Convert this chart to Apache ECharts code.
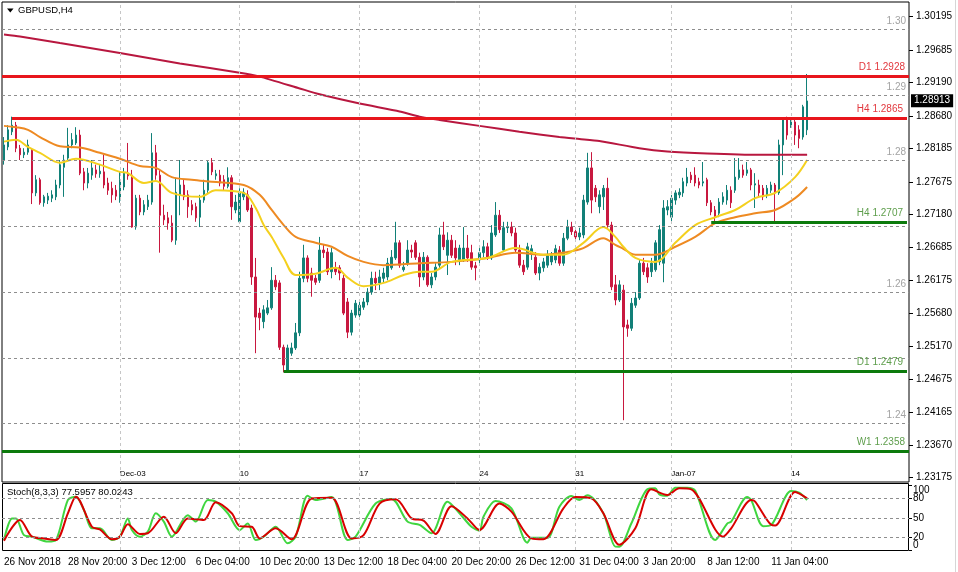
<!DOCTYPE html>
<html><head><meta charset="utf-8">
<script src="https://cdn.jsdelivr.net/npm/echarts@6/dist/echarts.min.js"></script>
<style>html,body{margin:0;padding:0;background:#fff}#c{width:958px;height:572px}</style>
</head><body><div id="c"></div>
<script>
// ---------- DATA ----------
const symbolTitle = 'GBPUSD,H4';
const opens = [1.2801,1.2821,1.2844,1.2854,1.2819,1.2809,1.2813,1.2816,1.2751,1.2771,
1.2736,1.2740,1.2743,1.2745,1.2763,1.2790,1.2804,1.2824,1.2827,1.2839,
1.2783,1.2766,1.2778,1.2786,1.2780,1.2783,1.2766,1.2758,1.2755,1.2740,
1.2760,1.2781,1.2778,1.2699,1.2743,1.2722,1.2730,1.2737,1.2812,1.2778,
1.2717,1.2713,1.2705,1.2679,1.2748,1.2763,1.2748,1.2733,1.2730,1.2714,
1.2740,1.2755,1.2797,1.2777,1.2778,1.2771,1.2761,1.2774,1.2725,1.2707,
1.2745,1.2748,1.2728,1.2623,1.2568,1.2555,1.2568,1.2576,1.2618,1.2614,
1.2516,1.2481,1.2507,1.2515,1.2538,1.2621,1.2652,1.2629,1.2621,1.2618,
1.2664,1.2661,1.2631,1.2637,1.2637,1.2621,1.2585,1.2539,1.2565,1.2565,
1.2577,1.2585,1.2600,1.2621,1.2614,1.2621,1.2623,1.2637,1.2652,1.2675,
1.2634,1.2644,1.2664,1.2675,1.2653,1.2623,1.2653,1.2611,1.2623,1.2641,
1.2687,1.2656,1.2679,1.2667,1.2649,1.2649,1.2667,1.2660,1.2640,1.2649,
1.2660,1.2669,1.2652,1.2687,1.2717,1.2664,1.2698,1.2699,1.2690,1.2664,
1.2641,1.2638,1.2660,1.2653,1.2629,1.2637,1.2641,1.2646,1.2649,1.2664,
1.2644,1.2682,1.2699,1.2692,1.2684,1.2687,1.2737,1.2789,1.2758,1.2730,
1.2745,1.2758,1.2702,1.2611,1.2588,1.2603,1.2550,1.2545,1.2580,1.2591,
1.2644,1.2637,1.2631,1.2634,1.2646,1.2644,1.2725,1.2714,1.2740,1.2748,
1.2751,1.2766,1.2778,1.2778,1.2768,1.2766,1.2771,1.2736,1.2725,1.2720,
1.2737,1.2740,1.2755,1.2755,1.2774,1.2786,1.2781,1.2786,1.2763,1.2763,
1.2758,1.2748,1.2755,1.2763,1.2751,1.2824,1.2862,1.2854,1.2859,1.2847,
1.2836,1.2847];
const closes = [1.2824,1.2847,1.2854,1.2819,1.2809,1.2813,1.2824,1.2751,1.2771,1.2736,
1.2745,1.2746,1.2748,1.2763,1.2794,1.2801,1.2824,1.2832,1.2839,1.2781,
1.2766,1.2781,1.2789,1.2780,1.2784,1.2763,1.2755,1.2748,1.2746,1.2771,
1.2781,1.2777,1.2699,1.2743,1.2722,1.2733,1.2740,1.2812,1.2778,1.2717,
1.2710,1.2705,1.2679,1.2752,1.2763,1.2745,1.2730,1.2725,1.2713,1.2740,
1.2755,1.2797,1.2783,1.2780,1.2766,1.2761,1.2774,1.2730,1.2737,1.2751,
1.2752,1.2725,1.2623,1.2562,1.2561,1.2573,1.2576,1.2618,1.2608,1.2516,
1.2489,1.2515,1.2515,1.2538,1.2621,1.2652,1.2621,1.2618,1.2615,1.2664,
1.2660,1.2631,1.2660,1.2631,1.2629,1.2568,1.2539,1.2568,1.2583,1.2580,
1.2585,1.2600,1.2621,1.2614,1.2623,1.2629,1.2644,1.2653,1.2675,1.2641,
1.2638,1.2664,1.2661,1.2653,1.2623,1.2653,1.2611,1.2623,1.2638,1.2687,
1.2669,1.2679,1.2656,1.2652,1.2667,1.2667,1.2652,1.2638,1.2637,1.2660,
1.2669,1.2652,1.2690,1.2717,1.2695,1.2698,1.2699,1.2690,1.2664,1.2641,
1.2631,1.2669,1.2666,1.2629,1.2638,1.2646,1.2656,1.2656,1.2666,1.2644,
1.2682,1.2699,1.2692,1.2684,1.2690,1.2740,1.2789,1.2740,1.2745,1.2748,
1.2758,1.2702,1.2608,1.2588,1.2611,1.2547,1.2545,1.2583,1.2591,1.2644,
1.2631,1.2623,1.2644,1.2675,1.2695,1.2728,1.2730,1.2743,1.2751,1.2752,
1.2768,1.2775,1.2771,1.2766,1.2763,1.2768,1.2736,1.2722,1.2714,1.2737,
1.2745,1.2755,1.2736,1.2775,1.2786,1.2778,1.2786,1.2763,1.2765,1.2751,
1.2745,1.2758,1.2763,1.2751,1.2824,1.2862,1.2839,1.2859,1.2839,1.2834,
1.2882,1.2891];
const highs = [1.2836,1.2854,1.2867,1.2859,1.2824,1.2819,1.2832,1.2819,1.2778,1.2774,
1.2748,1.2751,1.2755,1.2771,1.2801,1.2809,1.2850,1.2842,1.2851,1.2847,
1.2789,1.2789,1.2801,1.2794,1.2794,1.2809,1.2774,1.2768,1.2763,1.2783,
1.2789,1.2827,1.2786,1.2748,1.2748,1.2740,1.2748,1.2842,1.2824,1.2786,
1.2733,1.2722,1.2717,1.2774,1.2801,1.2771,1.2755,1.2740,1.2736,1.2748,
1.2771,1.2801,1.2804,1.2786,1.2786,1.2778,1.2790,1.2778,1.2748,1.2758,
1.2758,1.2755,1.2733,1.2652,1.2576,1.2580,1.2588,1.2638,1.2626,1.2618,
1.2520,1.2520,1.2523,1.2553,1.2631,1.2672,1.2656,1.2637,1.2626,1.2684,
1.2672,1.2667,1.2667,1.2646,1.2641,1.2626,1.2591,1.2573,1.2588,1.2588,
1.2591,1.2606,1.2631,1.2631,1.2634,1.2637,1.2652,1.2664,1.2707,1.2679,
1.2646,1.2679,1.2672,1.2679,1.2660,1.2661,1.2656,1.2629,1.2644,1.2698,
1.2707,1.2691,1.2687,1.2679,1.2672,1.2699,1.2687,1.2672,1.2646,1.2667,
1.2679,1.2675,1.2702,1.2737,1.2725,1.2707,1.2707,1.2707,1.2698,1.2672,
1.2649,1.2675,1.2672,1.2661,1.2644,1.2652,1.2664,1.2661,1.2672,1.2670,
1.2690,1.2710,1.2707,1.2698,1.2698,1.2748,1.2812,1.2813,1.2763,1.2755,
1.2763,1.2774,1.2707,1.2626,1.2618,1.2611,1.2558,1.2591,1.2600,1.2649,
1.2652,1.2644,1.2652,1.2679,1.2702,1.2740,1.2740,1.2748,1.2755,1.2758,
1.2774,1.2789,1.2783,1.2790,1.2774,1.2798,1.2774,1.2740,1.2731,1.2743,
1.2752,1.2763,1.2761,1.2804,1.2804,1.2794,1.2798,1.2789,1.2781,1.2771,
1.2763,1.2763,1.2768,1.2766,1.2832,1.2865,1.2867,1.2865,1.2865,1.2854,
1.2885,1.2932];
const lows = [1.2794,1.2816,1.2839,1.2813,1.2801,1.2804,1.2809,1.2734,1.2746,1.2733,
1.2730,1.2734,1.2737,1.2740,1.2758,1.2745,1.2801,1.2819,1.2824,1.2778,
1.2755,1.2758,1.2771,1.2774,1.2774,1.2758,1.2748,1.2736,1.2740,1.2736,
1.2755,1.2771,1.2698,1.2695,1.2717,1.2717,1.2725,1.2733,1.2771,1.2660,
1.2702,1.2695,1.2676,1.2672,1.2717,1.2740,1.2713,1.2717,1.2707,1.2699,
1.2736,1.2751,1.2778,1.2771,1.2761,1.2755,1.2758,1.2710,1.2720,1.2704,
1.2740,1.2722,1.2611,1.2507,1.2542,1.2545,1.2565,1.2573,1.2603,1.2512,
1.2478,1.2478,1.2503,1.2512,1.2533,1.2615,1.2615,1.2593,1.2611,1.2614,
1.2652,1.2626,1.2621,1.2626,1.2618,1.2565,1.2530,1.2534,1.2561,1.2561,
1.2573,1.2580,1.2596,1.2603,1.2603,1.2615,1.2618,1.2634,1.2649,1.2637,
1.2631,1.2640,1.2652,1.2649,1.2608,1.2618,1.2608,1.2606,1.2618,1.2637,
1.2664,1.2626,1.2652,1.2641,1.2641,1.2646,1.2646,1.2634,1.2618,1.2644,
1.2653,1.2649,1.2649,1.2684,1.2690,1.2661,1.2690,1.2685,1.2660,1.2637,
1.2626,1.2634,1.2649,1.2626,1.2618,1.2631,1.2637,1.2641,1.2644,1.2640,
1.2640,1.2679,1.2687,1.2679,1.2679,1.2682,1.2733,1.2720,1.2737,1.2720,
1.2725,1.2698,1.2603,1.2580,1.2585,1.2405,1.2532,1.2541,1.2576,1.2588,
1.2626,1.2614,1.2623,1.2631,1.2641,1.2615,1.2717,1.2707,1.2733,1.2743,
1.2745,1.2761,1.2766,1.2761,1.2758,1.2761,1.2731,1.2717,1.2708,1.2714,
1.2733,1.2733,1.2728,1.2751,1.2771,1.2774,1.2777,1.2755,1.2728,1.2746,
1.2740,1.2743,1.2751,1.2708,1.2748,1.2778,1.2832,1.2850,1.2824,1.2819,
1.2832,1.2839];

// moving averages: [bar index, price]
const maLong = [[0,1.2992],[4,1.2989],[14,1.2979],[29,1.2964],[44,1.2948],[59,1.2934],[64,1.2928],[74,1.2910],[79,1.2901],[89,1.2887],[99,1.2875],[104,1.2867],[109,1.2862],[119,1.2853],[129,1.2844],[139,1.2836],[144,1.2833],[149,1.2830],[159,1.2819],[166,1.2814],[176,1.2811],[189,1.2809],[201,1.2809]];
const maSlow = [[0,1.2853],[3,1.2851],[6,1.2847],[9,1.2836],[14,1.2822],[19,1.2820],[24,1.2812],[29,1.2803],[34,1.2792],[38,1.2789],[42,1.2775],[47,1.2771],[52,1.2768],[60,1.2763],[64,1.2748],[67,1.2725],[70,1.2702],[73,1.2684],[78,1.2675],[82,1.2669],[86,1.2655],[90,1.2646],[95,1.2641],[104,1.2644],[112,1.2646],[121,1.2652],[128,1.2660],[135,1.2657],[141,1.2661],[145,1.2667],[150,1.2682],[153,1.2672],[155,1.2666],[158,1.2657],[163,1.2657],[168,1.2669],[173,1.2684],[178,1.2705],[183,1.2714],[188,1.2720],[193,1.2725],[198,1.2743],[201,1.2760]];
const maFast = [[0,1.2829],[3,1.2832],[6,1.2821],[9,1.2812],[14,1.2797],[18,1.2803],[24,1.2794],[29,1.2783],[31,1.2781],[35,1.2766],[38,1.2769],[42,1.2751],[49,1.2745],[53,1.2755],[60,1.2751],[63,1.2728],[65,1.2702],[67,1.2684],[70,1.2652],[73,1.2626],[78,1.2628],[83,1.2637],[86,1.2622],[90,1.2609],[95,1.2614],[100,1.2626],[104,1.2631],[107,1.2631],[112,1.2646],[121,1.2652],[128,1.2667],[135,1.2657],[140,1.2657],[145,1.2675],[150,1.2699],[153,1.2684],[155,1.2669],[158,1.2652],[163,1.2646],[168,1.2675],[173,1.2702],[178,1.2714],[183,1.2725],[188,1.2743],[193,1.2751],[198,1.2775],[201,1.2801]];

// stochastic %K / %D: [bar index, value]
const stochK = [[0,15.5],[2,49],[3,49],[5,23],[7,20.7],[11,13],[13,15.5],[16,77.6],[18,82.7],[20,62],[22,33.6],[24,33.6],[27,15.5],[29,20.7],[31,49],[32,31],[34,20.7],[36,28.5],[38,57],[40,44],[42,20.7],[46,54],[48,44],[51,77.6],[53,75],[56,57],[59,31],[61,41],[63,15.5],[65,20.7],[68,36],[71,10.4],[73,20.7],[76,84],[78,77.6],[82,82],[86,15.5],[88,20.7],[93,72],[97,79],[101,44],[104,39],[107,26],[111,75],[114,57],[117,36],[119,30],[120,51.7],[123,76],[127,64.6],[131,11.4],[132,19],[136,19],[139,67],[142,83.8],[144,77.6],[146,85],[150,57],[153,5.2],[154,5],[157,41],[161,94],[163,95.6],[164,86.4],[166,84.3],[168,96.7],[171,96.7],[173,92],[178,15.5],[181,41],[182,44],[186,82],[187,77.6],[190,37],[192,38.8],[197,91.5],[199,88.9],[201,77.5957]];
const stochD = [[0,14.5],[4,46.6],[7,20.7],[10,18],[13,15.5],[16,57],[18,82.7],[22,36],[24,32],[27,16.6],[29,20.7],[31,40],[34,25],[36,26],[40,51.7],[43,26],[46,49],[50,46.6],[53,74],[57,57],[59,37],[62,36],[64,18],[68,33.6],[72,16.6],[77,80],[82,81],[87,18],[90,23],[94,72],[98,78.6],[102,49],[105,45.5],[108,25],[112,68],[116,49],[119,31],[124,72],[127,59.5],[132,18],[135,16.6],[140,64.6],[143,82],[147,80],[150,57],[154,8],[158,33.6],[162,94],[166,85.3],[169,95.6],[172,94],[180,20.7],[182,33.6],[187,77.6],[188,75],[192,39],[193,38],[198,90],[201,80.0243]];
const stochLastK = '77.5957', stochLastD = '80.0243';

// axes / labels
const barSlots = 227;
const timeLabels = ['26 Nov 2018','28 Nov 20:00','3 Dec 12:00','6 Dec 04:00','10 Dec 20:00','13 Dec 12:00','18 Dec 04:00','20 Dec 20:00','26 Dec 12:00','31 Dec 04:00','3 Jan 20:00','8 Jan 12:00','11 Jan 04:00'];
const timeLabelStep = 16;
const weekBars = [29,59,89,119,143,167,197];
const weekLabels = ['Dec-03','10','17','24','31','Jan-07','14'];
const priceTicks = [1.30195,1.29685,1.29190,1.28680,1.28185,1.27675,1.27180,1.26685,1.26175,1.25680,1.25170,1.24675,1.24165,1.23670,1.23175];
const priceMin = 1.231096, priceMax = 1.304155;
const gridLevels = [1.30,1.29,1.28,1.27,1.26,1.25,1.24];
const roundLabels = ['1.30','1.29','1.28','','1.26','','1.24'];
const levelNames = ['D1 1.2928','H4 1.2865','H4 1.2707','D1 1.2479','W1 1.2358'];
const levelValues = [1.2928,1.2865,1.2707,1.2479,1.2358];
const levelStarts = [null,2,177,70,null];
const levelKinds = ['res','res','sup','sup','sup'];
const lastPrice = 1.28913;
const stochInnerTicks = [20,50,80];
const stochEdgeTicks = [0,100];
const stochLevels = [20,50,80];

// ---------- CHART ----------
const FONT = 'Liberation Sans, Arial, sans-serif';
const BULL = '#128078', BEAR = '#c8183f';
const RES_LINE = '#e8161c', SUP_LINE = '#0c7a0c';
const RES_TEXT = '#e2383e', SUP_TEXT = '#5e9e4c';
const cats = Array.from({length: barSlots}, (_, i) => String(i));
const candles = opens.map((o, i) => [o, closes[i], lows[i], highs[i]]);

const gridMarks = gridLevels.map((v, k) => ({
  yAxis: v,
  lineStyle: {color: '#8e8e8e', type: [3, 3], width: 1},
  label: {show: !!roundLabels[k], formatter: roundLabels[k], position: 'insideEndTop', color: '#a3a3a3', fontSize: 10, fontFamily: FONT, distance: 3}
})).concat(weekBars.map(b => ({
  xAxis: b, lineStyle: {color: '#c6c6c6', type: [3, 3], width: 1}, label: {show: false}
})));

const levelMarks = levelValues.map((v, k) => {
  const res = levelKinds[k] === 'res';
  const style = {
    lineStyle: {color: res ? RES_LINE : SUP_LINE, width: 3, type: 'solid'},
    label: {show: true, position: 'insideEndTop', formatter: levelNames[k], color: res ? RES_TEXT : SUP_TEXT, fontSize: 10, fontFamily: FONT, distance: 4}
  };
  if (levelStarts[k] === null) return Object.assign({yAxis: v}, style);
  return [Object.assign({coord: [levelStarts[k], v]}, style), {coord: [barSlots - 1, v]}];
});
levelMarks.push({
  yAxis: lastPrice,
  lineStyle: {color: 'rgba(0,0,0,0)', width: 1},
  label: {show: true, position: 'end', formatter: lastPrice.toFixed(5), backgroundColor: '#000', color: '#fff', padding: [2, 3, 1, 3], fontSize: 10, fontFamily: FONT, distance: 2}
});

const stochMarks = stochLevels.map(v => ({yAxis: v, lineStyle: {color: '#8e8e8e', type: [3, 3], width: 1}, label: {show: false}}))
  .concat(weekBars.map(b => ({xAxis: b, lineStyle: {color: '#c6c6c6', type: [3, 3], width: 1}, label: {show: false}})));

const chart = echarts.init(document.getElementById('c'), null, {renderer: 'canvas'});
chart.setOption({
  animation: false,
  backgroundColor: '#ffffff',
  textStyle: {fontFamily: FONT},
  grid: [
    {left: 2, top: 2, right: 49, height: 480, show: true, borderColor: '#000', borderWidth: 1},
    {left: 2, top: 485.5, right: 49, height: 64.5, show: false}
  ],
  xAxis: [
    {type: 'category', gridIndex: 0, data: cats, boundaryGap: true,
      axisLine: {show: false}, axisTick: {show: false}, splitLine: {show: false},
      axisLabel: {inside: true, margin: 4, fontSize: 8, color: '#000', align: 'left', fontFamily: FONT,
        interval: (i) => weekBars.indexOf(i) >= 0,
        formatter: (v, i) => { const k = weekBars.indexOf(i); return k >= 0 ? weekLabels[k] : ''; }}},
    {type: 'category', gridIndex: 1, data: cats, boundaryGap: true,
      axisLine: {show: false}, axisTick: {show: false}, splitLine: {show: false},
      axisLabel: {margin: 7, fontSize: 10, color: '#000', align: 'left', fontFamily: FONT,
        interval: (i) => i % timeLabelStep === 0 && i / timeLabelStep < timeLabels.length,
        formatter: (v, i) => timeLabels[i / timeLabelStep] || ''}}
  ],
  yAxis: [
    {type: 'value', gridIndex: 0, position: 'right', min: priceMin, max: priceMax, scale: true,
      splitLine: {show: false}, axisLine: {show: false},
      axisTick: {show: true, length: 4, customValues: priceTicks, lineStyle: {color: '#000'}},
      axisLabel: {customValues: priceTicks, formatter: v => v.toFixed(5), fontSize: 10, color: '#000', margin: 7, fontFamily: FONT}},
    {type: 'value', gridIndex: 1, position: 'right', min: 0, max: 100,
      splitLine: {show: false}, axisLine: {show: false},
      axisTick: {show: true, length: 3, customValues: stochInnerTicks, lineStyle: {color: '#000'}},
      axisLabel: {customValues: stochInnerTicks, fontSize: 10, color: '#000', margin: 4, fontFamily: FONT}},
    {type: 'value', gridIndex: 1, position: 'right', min: 0, max: 100,
      splitLine: {show: false}, axisLine: {show: false},
      axisTick: {show: true, length: 3, customValues: stochEdgeTicks, lineStyle: {color: '#000'}},
      axisLabel: {customValues: stochEdgeTicks, fontSize: 10, color: '#000', margin: 4, fontFamily: FONT,
        showMinLabel: true, showMaxLabel: true,
        verticalAlignMinLabel: 'bottom', verticalAlignMaxLabel: 'top'}}
  ],
  series: [
    {type: 'line', xAxisIndex: 0, yAxisIndex: 0, data: [], z: 1, silent: true, clip: false,
      markLine: {silent: true, symbol: 'none', animation: false, precision: 6, data: gridMarks}},
    {type: 'candlestick', xAxisIndex: 0, yAxisIndex: 0, data: candles, barWidth: 2, z: 2,
      itemStyle: {color: BULL, color0: BEAR, borderColor: BULL, borderColor0: BEAR, borderWidth: 1}},
    {type: 'line', xAxisIndex: 0, yAxisIndex: 0, data: maLong, showSymbol: false, smooth: 0.2, z: 3,
      lineStyle: {color: '#b8173f', width: 2}},
    {type: 'line', xAxisIndex: 0, yAxisIndex: 0, data: maSlow, showSymbol: false, smooth: 0.35, z: 3,
      lineStyle: {color: '#ee8a22', width: 2}},
    {type: 'line', xAxisIndex: 0, yAxisIndex: 0, data: maFast, showSymbol: false, smooth: 0.35, z: 3,
      lineStyle: {color: '#f4d01e', width: 2}},
    {type: 'line', xAxisIndex: 0, yAxisIndex: 0, data: [], z: 4, silent: true, clip: false,
      markLine: {silent: true, symbol: 'none', animation: false, precision: 6, data: levelMarks}},
    {type: 'line', xAxisIndex: 1, yAxisIndex: 1, data: [], z: 1, silent: true,
      markLine: {silent: true, symbol: 'none', animation: false, precision: 6, data: stochMarks}},
    {type: 'line', xAxisIndex: 1, yAxisIndex: 1, data: stochK, showSymbol: false, smooth: 0.3, z: 3,
      lineStyle: {color: '#3fd63f', width: 2}},
    {type: 'line', xAxisIndex: 1, yAxisIndex: 1, data: stochD, showSymbol: false, smooth: 0.3, z: 4,
      lineStyle: {color: '#d80000', width: 2}}
  ],
  graphic: [
    {type: 'rect', silent: true, shape: {x: 2.5, y: 483.5, width: 906, height: 67}, style: {fill: null, stroke: '#000', lineWidth: 1}},
    {type: 'line', silent: true, shape: {x1: 955.5, y1: 0, x2: 955.5, y2: 572}, style: {stroke: '#d6d6d6', lineWidth: 1}},
    {type: 'polygon', silent: true, shape: {points: [[7, 8.5], [13.5, 8.5], [10.25, 12.5]]}, style: {fill: '#000'}},
    {type: 'text', silent: true, x: 18, y: 10, style: {text: symbolTitle, fill: '#000', fontSize: 9.5, fontFamily: FONT, verticalAlign: 'middle'}},
    {type: 'text', silent: true, x: 7, y: 492, style: {text: 'Stoch(8,3,3) ' + stochLastK + ' ' + stochLastD, fill: '#000', fontSize: 9.5, fontFamily: FONT, verticalAlign: 'middle'}}
  ]
});
</script>
</body></html>
